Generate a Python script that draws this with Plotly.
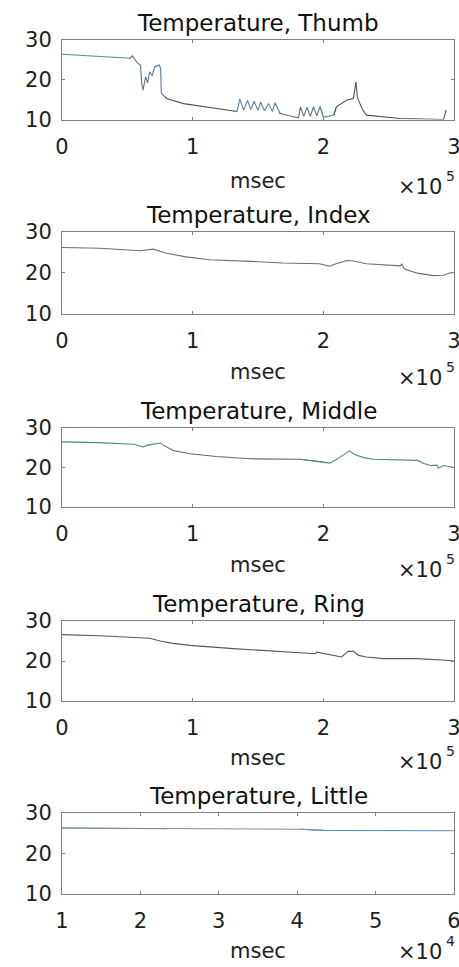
import plotly.graph_objects as go

# ---------------- data (x in msec, y in degrees) ----------------
thumb_x = [0, 52000, 54000, 56000, 58000, 60000, 61000, 62000, 64000, 65500, 67000, 69000, 71000,
           74500, 75500, 76000, 79000, 80000, 93000, 131000, 134000,
           136000, 139000, 142000, 144500, 147000, 150000, 152000, 155000, 158000, 161000, 163000, 166000, 167000,
           177000, 181000, 182500, 185000, 187500, 190000, 192500, 195000, 197500, 200000, 201000,
           208000, 210000, 218000, 223000, 225000, 226000, 228000, 230000, 233000, 246000, 259000, 292000, 294000]
thumb_y = [26.4, 25.4, 26.0, 25.0, 24.1, 23.7, 19.1, 17.4, 20.8, 19.2, 22.0, 21.0, 23.3,
           23.7, 22.8, 16.6, 15.7, 15.3, 14.0, 12.1, 12.0,
           15.2, 12.4, 14.8, 12.5, 14.6, 12.3, 14.4, 12.2, 14.0, 12.0, 14.2, 11.8, 11.5,
           10.7, 10.4, 13.2, 10.8, 13.1, 10.8, 13.2, 10.9, 13.3, 10.6, 10.6,
           11.1, 13.2, 14.9, 15.3, 19.5, 15.6, 14.0, 12.5, 11.1, 10.7, 10.25, 10.0, 12.4]

index_x = [0, 29000, 60000, 70000, 75000, 80000, 95000, 113000, 144000, 169000, 197000, 205000, 208000,
           218000, 223000, 233000, 259000, 260000, 262000, 272000, 284000, 292000, 296000, 300000]
index_y = [26.2, 26.0, 25.4, 25.8, 25.3, 24.8, 23.9, 23.2, 22.8, 22.4, 22.2, 21.6, 22.0,
           23.0, 22.9, 22.2, 21.7, 22.2, 20.9, 19.9, 19.3, 19.4, 19.9, 20.1]

middle_x = [0, 27000, 55000, 62000, 65000, 75000, 78000, 85000, 98000, 118000, 144000, 182000, 200000,
            205000, 210000, 218000, 220000, 224000, 231000, 238000, 261000, 272000, 277000, 282000, 287000,
            288000, 292000, 300000]
middle_y = [26.5, 26.3, 25.9, 25.2, 25.6, 26.2, 25.6, 24.3, 23.5, 22.8, 22.2, 22.1, 21.4,
            21.1, 22.0, 23.7, 24.2, 23.3, 22.5, 22.1, 21.8, 21.8, 21.0, 20.5, 20.6,
            19.8, 20.5, 20.0]

ring_x = [0, 29000, 67000, 75000, 85000, 98000, 131000, 157000, 182000, 194000, 195000, 208000, 214000,
          219000, 223000, 227000, 233000, 246000, 271000, 294000, 300000]
ring_y = [26.6, 26.3, 25.7, 25.0, 24.4, 23.9, 23.1, 22.6, 22.0, 21.8, 22.2, 21.4, 21.0,
          22.4, 22.4, 21.4, 21.0, 20.6, 20.6, 20.2, 20.0]

little_x = [10000, 23400, 40400, 43400, 60000]
little_y = [26.3, 26.1, 26.0, 25.7, 25.6]

titles = ["Temperature, Thumb", "Temperature, Index", "Temperature, Middle",
          "Temperature, Ring", "Temperature, Little"]
series = [(thumb_x, thumb_y), (index_x, index_y), (middle_x, middle_y),
          (ring_x, ring_y), (little_x, little_y)]
x_ticks_big = [0, 100000, 200000, 300000]
x_ticklabels_big = ["0", "1", "2", "3"]
x_ticks_small = [10000, 20000, 30000, 40000, 50000, 60000]
x_ticklabels_small = ["1", "2", "3", "4", "5", "6"]
y_ticks = [10, 20, 30]
x_label = "msec"
exponents = ["5", "5", "5", "5", "4"]

# ---------------- styling / layout ----------------
W, H = 459, 967
FONT = "DejaVu Sans"
TXT = "#1e1e1e"
tops = [40, 232, 428, 621, 813]
heights = [79.5, 81.5, 79, 80, 81]
label_off = [61, 58, 58, 57, 57]
exp_off = [67, 64, 63, 61, 58]
x0_px, x1_px = 62, 454

# colour segments (x breakpoints) per panel
seg_colors = [
    [(0, 54000, "#3f9a88"), (54000, 80000, "#5d7a96"), (80000, 134000, "#4f5558"),
     (134000, 167000, "#5f80a0"), (167000, 200000, "#5c6e86"), (200000, 210000, "#4aa088"),
     (210000, 300000, "#505458")],
    [(0, 300000, "#6a6e70")],
    [(0, 80000, "#3f8f7e"), (80000, 200000, "#5b6a6a"), (200000, 300000, "#4b8a80")],
    [(0, 300000, "#55595b")],
    [(0, 23400, "#3f9a88"), (23400, 43400, "#8a8a8a"), (43400, 60000, "#4f95c4")],
]

fig = go.Figure()
for i, ((xs, ys), title) in enumerate(zip(series, titles)):
    ax = "" if i == 0 else str(i + 1)
    for (a, b, col) in seg_colors[i]:
        idx = [k for k, x in enumerate(xs) if a <= x <= b]
        if not idx:
            continue
        if idx[0] > 0:
            idx = [idx[0] - 1] + idx
        fig.add_trace(go.Scatter(x=[xs[k] for k in idx], y=[ys[k] for k in idx], mode="lines",
                                 xaxis="x" + ax, yaxis="y" + ax,
                                 line=dict(color=col, width=1.1), showlegend=False,
                                 hoverinfo="skip"))
    top = tops[i]
    bot = top + heights[i]
    small = (i == 4)
    fig.layout["xaxis" + ax] = dict(
        domain=[x0_px / W, x1_px / W], anchor="y" + ax, automargin=False,
        range=[10000, 60000] if small else [0, 300000],
        tickvals=x_ticks_small if small else x_ticks_big,
        ticktext=x_ticklabels_small if small else x_ticklabels_big,
        ticklabeloverflow="allow",
        ticks="inside", ticklen=3, tickcolor="#808080", showline=True, linecolor="#808080",
        linewidth=1, mirror="ticks", showgrid=False, zeroline=False,
        tickfont=dict(family=FONT, size=21, color=TXT), ticklabelstandoff=8,
    )
    fig.layout["yaxis" + ax] = dict(
        domain=[1 - bot / H, 1 - top / H], anchor="x" + ax, range=[10, 30], automargin=False,
        tickvals=y_ticks, ticks="inside", ticklen=3, tickcolor="#808080", showline=True,
        linecolor="#808080", linewidth=1, mirror="ticks", showgrid=False, zeroline=False,
        tickfont=dict(family=FONT, size=21, color=TXT), ticklabelstandoff=5,
    )
    fig.add_annotation(text=title, xref="paper", yref="paper", x=(x0_px + x1_px) / 2 / W,
                       y=1 - (top - 17) / H, xanchor="center", yanchor="middle", showarrow=False,
                       font=dict(family=FONT, size=23, color="#111"))
    fig.add_annotation(text=x_label, xref="paper", yref="paper", x=(x0_px + x1_px) / 2 / W,
                       y=1 - (bot + label_off[i]) / H, xanchor="center", yanchor="middle",
                       showarrow=False, font=dict(family=FONT, size=21, color=TXT))
    fig.add_annotation(text="\u00d710", xref="paper", yref="paper",
                       x=396 / W, y=1 - (bot + exp_off[i]) / H, xanchor="left", yanchor="middle",
                       showarrow=False, font=dict(family=FONT, size=21, color=TXT))
    fig.add_annotation(text=exponents[i], xref="paper", yref="paper",
                       x=444 / W, y=1 - (bot + exp_off[i] - 11) / H, xanchor="left", yanchor="middle",
                       showarrow=False, font=dict(family=FONT, size=14, color=TXT))

fig.update_layout(width=W, height=H, margin=dict(l=0, r=0, t=0, b=0),
                  paper_bgcolor="white", plot_bgcolor="white")
fig.write_html("out.html", config={"displayModeBar": False},
               post_script="document.body.style.margin='0';document.body.style.overflow='hidden';")
